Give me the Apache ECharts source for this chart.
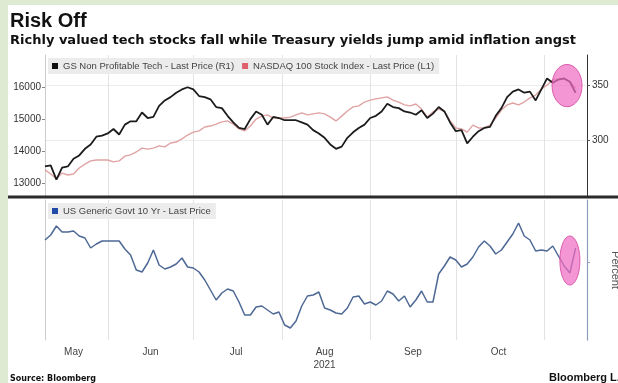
<!DOCTYPE html>
<html>
<head>
<meta charset="utf-8">
<script src="https://cdn.jsdelivr.net/npm/echarts@6/dist/echarts.min.js"></script>
<style>
  html, body { margin: 0; padding: 0; background: #dfead3; overflow: hidden; }
  #chart { position: absolute; left: 8px; top: 5px; width: 610px; height: 378px; background: #ffffff; }
</style>
</head>
<body>
<div id="chart"></div>
<script>
// one point every 2 calendar days, starting 10 May 2021
var startDate = new Date(2021, 4, 10)
var stepDays = 2

// GS Non Profitable Tech (right axis)
var gsTech = [276,277,264,275,276,283,286,292,296,303, 304,306,310,305,314,317,317,325,320,321,
  331,336,339,343,346,348,346,340,339,337, 330,329,322,316,311,310,319,326,323,314,
  321,320,318,318,318,316,314,309,306,302, 296,292,294,302,307,311,314,320,322,326,
  333,330,329,326,325,323,327,320,324,330, 326,316,308,309,297,303,308,311,312,322,
  329,339,344,346,343,344,336,346,356,352, 355,356,353,343]

// NASDAQ 100 (left axis)
var nasdaq = [13410,13280,13130,13310,13250,13280,13470,13590,13690,13720, 13720,13720,13660,13690,13840,13880,13970,14090,14060,14090,
  14160,14130,14250,14280,14380,14500,14590,14630,14750,14780, 14840,14910,14940,14840,14690,14630,14780,15000,15090,15130,
  15030,15030,15030,15060,15130,15190,15130,15160,15190,15160, 15060,14940,15090,15250,15380,15410,15530,15590,15630,15660,
  15690,15590,15530,15440,15410,15470,15310,15060,15220,15310, 15250,14940,14720,14690,14590,14810,14720,14720,14810,15030,
  15280,15440,15500,15440,15530,15660,15750,15940,16060,16220, 16250,16250,16160,15970]

// US Generic Govt 10 Yr (percent)
var us10y = [1.61,1.635,1.68,1.65,1.65,1.655,1.63,1.62,1.57,1.59, 1.605,1.605,1.605,1.605,1.565,1.535,1.46,1.45,1.495,1.56,
  1.485,1.465,1.475,1.49,1.52,1.475,1.47,1.45,1.41,1.36, 1.31,1.345,1.365,1.355,1.30,1.235,1.235,1.275,1.28,1.26,
  1.24,1.25,1.185,1.17,1.205,1.28,1.33,1.335,1.35,1.27, 1.26,1.245,1.24,1.27,1.325,1.33,1.29,1.30,1.285,1.305,
  1.355,1.34,1.305,1.33,1.275,1.31,1.355,1.30,1.30,1.44, 1.48,1.525,1.51,1.475,1.49,1.525,1.575,1.605,1.58,1.54,
  1.56,1.60,1.64,1.695,1.63,1.61,1.555,1.56,1.555,1.58, 1.53,1.48,1.445,1.57]

var monthNames = ['May', 'Jun', 'Jul', 'Aug', 'Sep', 'Oct']
var leftTicks = [13000, 14000, 15000, 16000]
var rightTicks = [300, 350]

var FONT = '"Liberation Sans", Arial, sans-serif'
var HEAD_FONT = '"DejaVu Sans", Verdana, sans-serif'
var DAY = 86400000

// x is measured in days since startDate
function dayOf(y, m, d) {
  return Math.round((new Date(y, m, d).getTime() - startDate.getTime()) / DAY)
}
var days = gsTech.map(function (v, i) { return i * stepDays })
function pairs(arr) {
  return arr.map(function (v, i) { return [days[i], v] })
}

var xMin = 0
var xMax = dayOf(2021, 10, 16)
var monthStarts = [5, 6, 7, 8, 9, 10].map(function (m) { return dayOf(2021, m, 1) })
var labelDays = [[4, 20], [5, 16], [6, 16], [7, 16], [8, 16], [9, 16]].map(function (d) {
  return dayOf(2021, d[0], d[1])
})

var chart = echarts.init(document.getElementById('chart'))

var gsName = 'GS Non Profitable Tech - Last Price (R1)'
var ndxName = 'NASDAQ 100 Stock Index - Last Price (L1)'
var usName = 'US Generic Govt 10 Yr - Last Price'

function xAxisBase(gridIndex) {
  return {
    type: 'value',
    gridIndex: gridIndex,
    min: xMin,
    max: xMax,
    axisLine: { show: false },
    axisTick: { show: false, customValues: monthStarts },
    splitLine: { show: true, lineStyle: { color: '#e3e3e3', width: 1 } }
  }
}

var xTop = xAxisBase(0)
xTop.axisLabel = { show: false }
var xBottom = xAxisBase(1)
xBottom.axisLabel = {
  show: true,
  customValues: labelDays,
  margin: 6,
  fontSize: 10,
  lineHeight: 13,
  color: '#444',
  fontFamily: FONT,
  formatter: function (v) {
    var m = new Date(startDate.getTime() + v * DAY).getMonth()
    var name = monthNames[m - 4]
    return m === 7 ? name + '\n2021' : name
  }
}

var plainNumber = function (v) { return String(v) }

var option = {
  animation: false,
  title: [
    { text: 'Risk Off', left: 2, top: 6, padding: 0,
      textStyle: { fontSize: 20, fontWeight: 'bold', color: '#111', fontFamily: FONT } },
    { text: 'Richly valued tech stocks fall while Treasury yields jump amid inflation angst', left: 2, top: 29, padding: 0,
      textStyle: { fontSize: 13, fontWeight: 'bold', color: '#111', fontFamily: HEAD_FONT } },
    { text: 'Source: Bloomberg', left: 2, top: 370, padding: 0,
      textStyle: { fontSize: 8, fontWeight: 'bold', color: '#111', fontFamily: HEAD_FONT } },
    { text: 'Bloomberg L.P.', left: 541, top: 367, padding: 0,
      textStyle: { fontSize: 11, fontWeight: 'bold', color: '#111', fontFamily: FONT } }
  ],
  legend: [
    {
      left: 40, top: 53,
      icon: 'rect', itemWidth: 6, itemHeight: 6, itemGap: 8,
      backgroundColor: '#ececec', padding: [3, 5, 3, 4],
      selectedMode: false,
      textStyle: { fontSize: 9.5, color: '#444', fontFamily: FONT },
      data: [
        { name: gsName, itemStyle: { color: '#111111' } },
        { name: ndxName, itemStyle: { color: '#e0606e' } }
      ]
    },
    {
      left: 40, top: 198,
      icon: 'rect', itemWidth: 6, itemHeight: 6,
      backgroundColor: '#ececec', padding: [3, 5, 3, 4],
      selectedMode: false,
      textStyle: { fontSize: 9.5, color: '#444', fontFamily: FONT },
      data: [{ name: usName, itemStyle: { color: '#1f4aa8' } }]
    }
  ],
  grid: [
    { left: 37, right: 31, top: 50, height: 141, outerBoundsMode: 'none' },
    { left: 37, right: 31, top: 195, height: 140, outerBoundsMode: 'none' }
  ],
  xAxis: [xTop, xBottom],
  yAxis: [
    {
      type: 'value', gridIndex: 0, position: 'left',
      min: 12594, max: 17000,
      axisLine: { show: true, lineStyle: { color: '#cccccc' } },
      axisTick: { show: true, length: 3, customValues: leftTicks, lineStyle: { color: '#888' } },
      axisLabel: { customValues: leftTicks, formatter: plainNumber, fontSize: 10, color: '#333', margin: 4, fontFamily: FONT },
      splitLine: { show: false }
    },
    {
      type: 'value', gridIndex: 0, position: 'right',
      min: 249.1, max: 377.3,
      axisLine: { show: true, lineStyle: { color: '#333333', width: 1 } },
      axisTick: { show: true, length: 3, customValues: rightTicks, lineStyle: { color: '#555' } },
      axisLabel: { customValues: rightTicks, formatter: plainNumber, fontSize: 10, color: '#333', margin: 5, fontFamily: FONT },
      splitLine: { show: true, lineStyle: { color: '#ececec' } }
    },
    {
      type: 'value', gridIndex: 1, position: 'left',
      min: 1.11, max: 1.81,
      axisLine: { show: true, lineStyle: { color: '#cccccc' } },
      axisTick: { show: false },
      axisLabel: { show: false },
      splitLine: { show: false }
    },
    {
      type: 'value', gridIndex: 1, position: 'right',
      min: 1.11, max: 1.81,
      name: 'Percent', nameLocation: 'middle', nameRotate: -90, nameGap: 23,
      nameTextStyle: { fontSize: 11, color: '#555', fontFamily: FONT },
      axisLine: { show: true, lineStyle: { color: '#8c9dbd', width: 1.2 } },
      axisTick: { show: true, length: 3, customValues: [1.5], lineStyle: { color: '#8c9dbd' } },
      axisLabel: { show: false },
      splitLine: { show: false }
    }
  ],
  series: [
    {
      name: ndxName, type: 'line', xAxisIndex: 0, yAxisIndex: 0,
      showSymbol: false, lineStyle: { color: '#e0a3a3', width: 1.4 },
      data: pairs(nasdaq)
    },
    {
      name: gsName, type: 'line', xAxisIndex: 0, yAxisIndex: 1,
      showSymbol: false, lineStyle: { color: '#1c1c1c', width: 1.8 },
      data: pairs(gsTech)
    },
    {
      name: usName, type: 'line', xAxisIndex: 1, yAxisIndex: 3,
      showSymbol: false, lineStyle: { color: '#4d6895', width: 1.5 },
      data: pairs(us10y)
    }
  ]
}

chart.setOption(option)

// separator between panels and the pink highlight circles on the latest moves
function highlight(seriesIndex, values, from, to, rx, pad) {
  var xs = [], ys = []
  for (var i = from; i <= to; i++) {
    var p = chart.convertToPixel({ seriesIndex: seriesIndex }, [days[i], values[i]])
    xs.push(p[0]); ys.push(p[1])
  }
  var top = Math.min.apply(null, ys), bottom = Math.max.apply(null, ys)
  var cx = (Math.min.apply(null, xs) + Math.max.apply(null, xs)) / 2
  return {
    type: 'ellipse', z: 100,
    shape: { cx: cx, cy: (top + bottom) / 2, rx: rx, ry: (bottom - top) / 2 + pad },
    style: { fill: 'rgba(240,110,195,0.72)', stroke: 'rgba(215,80,165,0.9)', lineWidth: 1 }
  }
}

var width = chart.getWidth()
chart.setOption({
  graphic: [
    {
      type: 'line', z: 50,
      shape: { x1: 0, y1: 192, x2: width, y2: 192 },
      style: { stroke: '#2b2b2b', lineWidth: 3 }
    },
    highlight(1, gsTech, 90, 93, 15, 14),
    highlight(2, us10y, 91, 93, 10, 12)
  ]
})
</script>
</body>
</html>
